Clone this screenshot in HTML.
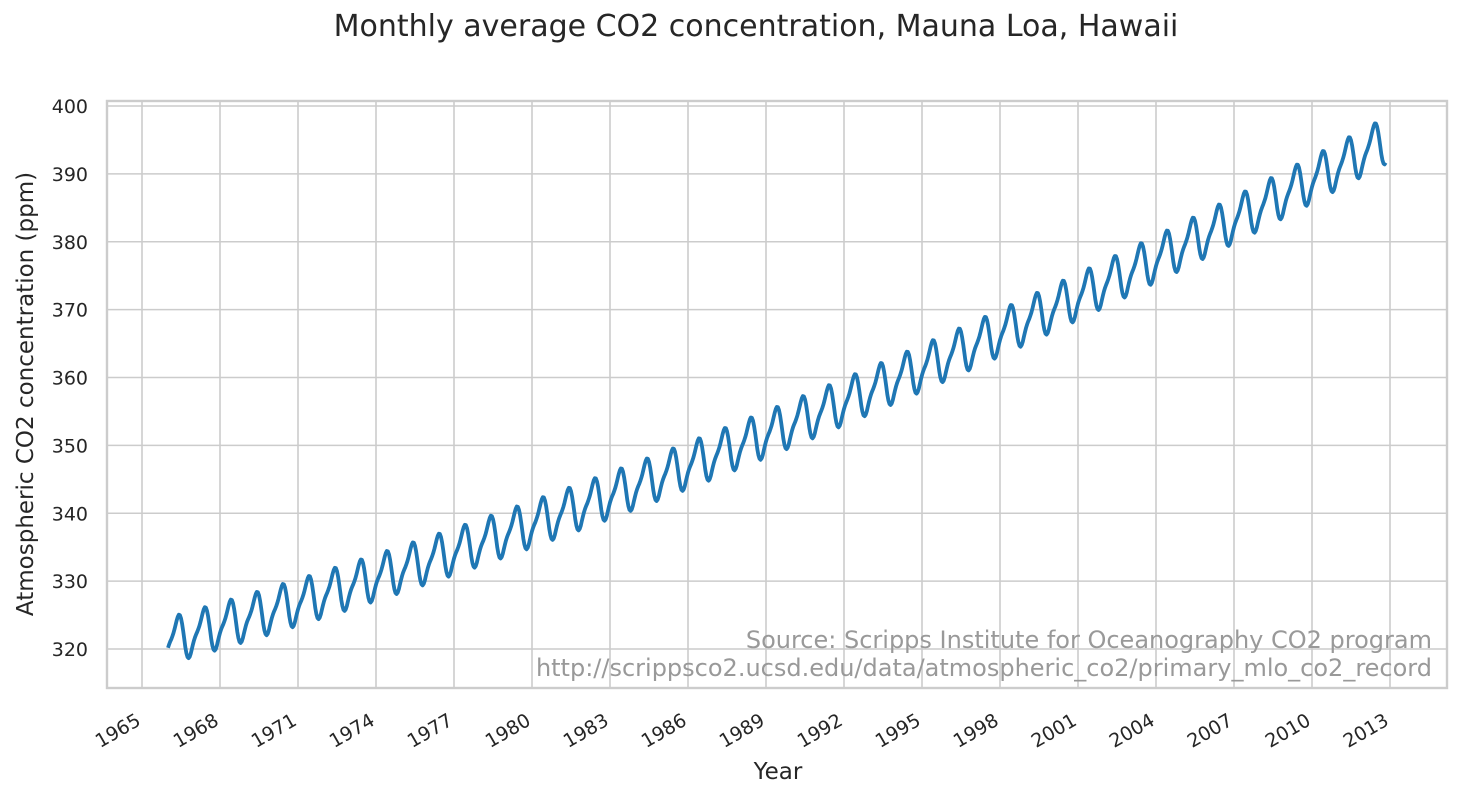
<!DOCTYPE html>
<html><head><meta charset="utf-8"><style>
body{margin:0;background:#fff;}
text{font-family:"DejaVu Sans","Liberation Sans",sans-serif;fill:#262626;}
</style></head><body>
<svg id="s" width="1461" height="799" xmlns="http://www.w3.org/2000/svg">
<rect width="1461" height="799" fill="#fff"/>
<g id="grid" stroke="#cccccc" stroke-width="1.6"></g>
<rect x="107" y="101" width="1340" height="587" fill="none" stroke="#cccccc" stroke-width="2.4"/>
<polyline id="line" fill="none" stroke="#1f77b4" stroke-width="3.8" stroke-linejoin="round"/>
<g id="labels" font-size="19"></g>
<text x="756" y="36" font-size="30" text-anchor="middle">Monthly average CO2 concentration, Mauna Loa, Hawaii</text>
<text x="778" y="779" font-size="23" text-anchor="middle">Year</text>
<text transform="translate(33,394) rotate(-90)" font-size="23" text-anchor="middle">Atmospheric CO2 concentration (ppm)</text>
<text x="1432" y="648" font-size="24" text-anchor="end" style="fill:#999">Source: Scripps Institute for Oceanography CO2 program</text>
<text x="1432" y="676" font-size="24" text-anchor="end" style="fill:#999">http://scrippsco2.ucsd.edu/data/atmospheric_co2/primary_mlo_co2_record</text>
</svg>
<script>
var ns="http://www.w3.org/2000/svg";
function X(t){return 142+(t-1965)*26;}
function Y(v){return 649-(v-320)*6.7875;}
var g=document.getElementById("grid"),L=document.getElementById("labels");
function el(p,n,a,txt){var e=document.createElementNS(ns,n);for(var k in a)e.setAttribute(k,a[k]);if(txt)e.textContent=txt;p.appendChild(e);return e;}
for(var v=320;v<=400;v+=10){var y=Y(v);el(g,"line",{x1:107,x2:1447,y1:y,y2:y});el(L,"text",{x:88,y:y+7,"text-anchor":"end"},""+v);}
for(var yr=1965;yr<=2013;yr+=3){var x=X(yr);el(g,"line",{x1:x,x2:x,y1:101,y2:688});el(L,"text",{transform:"translate("+(x-7)+",712) rotate(-30)","text-anchor":"end",y:14},""+yr);}
var pts=[];
for(var t=1966.0;t<=2012.85;t+=1/24){var d=t-1966;
var th=2*Math.PI*(t-1966-0.36);
var v=321.2+1.08*d+0.01054*d*d+3.0*Math.cos(th)+0.9*Math.sin(2*th);
pts.push(X(t).toFixed(1)+","+Y(v).toFixed(1));}
document.getElementById("line").setAttribute("points",pts.join(" "));
</script>
</body></html>
